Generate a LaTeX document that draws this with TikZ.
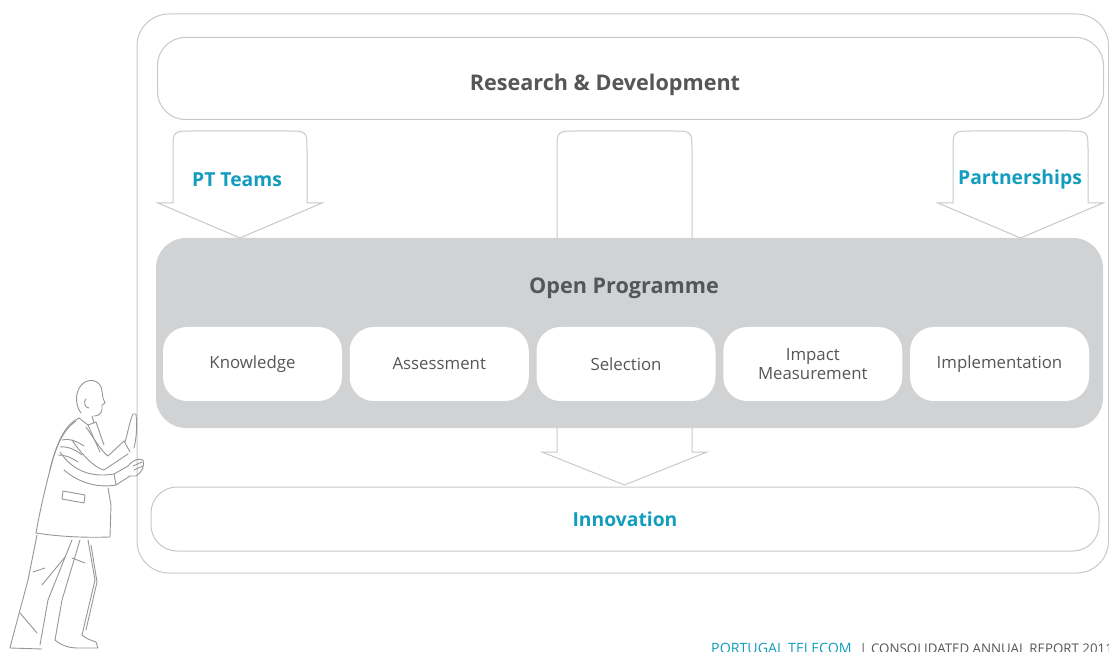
\documentclass[tikz,border=0pt]{standalone}
\usepackage{fontspec}
\setmainfont{Open Sans}

\definecolor{ptteal}{RGB}{18,157,190}
\definecolor{textgrey}{RGB}{85,86,88}
\definecolor{panelgrey}{RGB}{209,210,212}
\definecolor{linegrey}{RGB}{200,200,200}
\definecolor{sketchgrey}{RGB}{150,150,150}

% down arrow with rounded shoulders: left, right, top, wing line, tip
\newcommand{\feedarrow}[5]{%
  \draw[flow] (#1-15,#4) -- (#1,#4) -- (#1,#3+20) .. controls (#1,#3) .. (#1+20,#3)
    -- (#2-20,#3) .. controls (#2,#3) .. (#2,#3+20) -- (#2,#4) -- (#2+15,#4)
    -- ({(#1+#2)/2},#5) -- cycle;}

\begin{document}
\begin{tikzpicture}[x=1pt, y=-1pt,
    frame/.style={draw=linegrey, line width=1pt},
    band/.style={frame, fill=white, rounded corners=28pt},
    flow/.style={frame, fill=white},
    panel/.style={fill=panelgrey, rounded corners=30pt},
    stagebox/.style={fill=white, rounded corners=24pt, minimum width=179pt,
      minimum height=74pt, align=center, text=textgrey,
      font=\fontsize{16.8}{19.5}\selectfont},
    heading/.style={text=textgrey, font=\bfseries\fontsize{21.6}{25}\selectfont},
    source/.style={text=ptteal, font=\bfseries\fontsize{19.3}{23}\selectfont},
    sketch/.style={draw=sketchgrey, line width=0.9pt, line cap=round, line join=round}]
  \useasboundingbox (0,0) rectangle (1109,652);

  % outer wall
  \draw[frame, rounded corners=32pt] (137,14) rectangle (1108.5,573);

  % top band
  \node[band, minimum width=946pt, minimum height=82pt] (rd) at (630.5,78.5) {};
  \node[heading] (rdlabel) at (605,84.5) {Research \& Development};

  % inputs into the programme
  \feedarrow{173}{307}{131}{203}{238}
  \feedarrow{953}{1088}{131}{203}{238}
  \feedarrow{557}{692}{131}{452}{485}
  \node[source] (teams) at (237,179.5) {PT Teams};
  \node[source] (partners) at (1020,179.5) {Partnerships};

  % programme panel
  \node[panel, minimum width=947pt, minimum height=190pt] (open) at (629.5,333) {};
  \node[heading] (openlabel) at (624,288) {Open Programme};
  \foreach \name/\text [count=\i from 0] in {know/Knowledge, assess/Assessment,
      select/Selection, impact/{Impact\\Measurement}, implement/Implementation}
    \node[stagebox] (\name) at (252.5+186.75*\i,364) {\text};

  % result band
  \node[band, rounded corners=26pt, minimum width=948pt, minimum height=64pt,
    source] (innov) at (625,519) {Innovation};

  % man leaning on the wall
  \draw[sketch] (81,413) .. controls (74,404) and (75,388) .. (85,382)
    .. controls (93,378) and (101,382) .. (102,391) -- (103,398) -- (105,403)
    -- (102,405) -- (102,410) .. controls (101,414) and (98,416) .. (94,416);
  \draw[sketch] (86,399) .. controls (83,402) and (85,408) .. (89,408);
  \draw[sketch] (92,416) -- (94,423);
  \draw[sketch] (79,418) -- (88,425) -- (96,422);
  \draw[sketch] (79,418) .. controls (66,424) and (58,440) .. (52,462)
    .. controls (46,485) and (40,510) .. (36,533);
  \draw[sketch] (76,421) .. controls (63,430) and (56,446) .. (50,470);
  \draw[sketch] (36,533) .. controls (55,536) and (80,538) .. (110,537);
  \draw[sketch] (110,537) -- (111,505) -- (108,488);
  \draw[sketch] (88,425) -- (100,452);
  \draw[sketch] (96,422) -- (104,445);
  % raised arm
  \draw[sketch] (86,427) .. controls (95,440) and (102,452) .. (108,456) -- (124,441);
  \draw[sketch] (72,440) .. controls (82,455) and (95,468) .. (104,470) -- (128,454);
  \draw[sketch] (124,441) -- (130,452);
  \draw[sketch] (125,442) .. controls (128,432) and (130,420) .. (133,414) -- (136,414)
    .. controls (137,424) and (137,436) .. (134,448);
  % lower arm
  \draw[sketch] (60,452) .. controls (72,470) and (90,478) .. (114,474) -- (128,466);
  \draw[sketch] (64,470) .. controls (80,484) and (100,488) .. (116,485) -- (130,476);
  \draw[sketch] (114,474) -- (116,485);
  \draw[sketch] (128,466) .. controls (133,460) and (138,458) .. (143,460)
    .. controls (145,466) and (142,472) .. (136,476) -- (130,476);
  \draw[sketch] (133,466) -- (142,462) (134,470) -- (143,466);
  % folds and pocket
  \draw[sketch] (62,440) .. controls (70,438) and (78,442) .. (84,446);
  \draw[sketch] (60,447) .. controls (68,446) and (76,450) .. (82,455);
  \draw[sketch] (58,455) .. controls (66,455) and (72,458) .. (78,462);
  \draw[sketch] (63,491) -- (85,495) -- (84,503) -- (62,499) -- cycle;
  % legs
  \draw[sketch] (37,535) -- (28,580) -- (12,640) -- (10,648) -- (42,649);
  \draw[sketch] (72,540) -- (48,600) -- (40,645);
  \draw[sketch] (80,540) -- (62,600) -- (55,640);
  \draw[sketch] (88,540) -- (95,580) -- (82,635);
  \draw[sketch] (91,545) -- (97,582) -- (86,630);
  \draw[sketch] (55,640) .. controls (62,646) and (70,648) .. (78,648) -- (98,648)
    -- (96,642) .. controls (90,640) and (85,638) .. (82,635);
  \draw[sketch] (33,572) -- (45,568) (42,585) -- (65,557) (72,558) -- (85,563)
    (20,613) -- (37,633);

  % footer
  \node[anchor=base west, inner sep=0pt, text=textgrey, font=\fontsize{13.3}{14}\selectfont]
    (footer) at (711,653) {\textcolor{ptteal}{\fontsize{14.2}{14}\selectfont PORTUGAL TELECOM}%
    \hspace{8pt}|\hspace{4pt}CONSOLIDATED ANNUAL REPORT 2011};
\end{tikzpicture}
\end{document}
